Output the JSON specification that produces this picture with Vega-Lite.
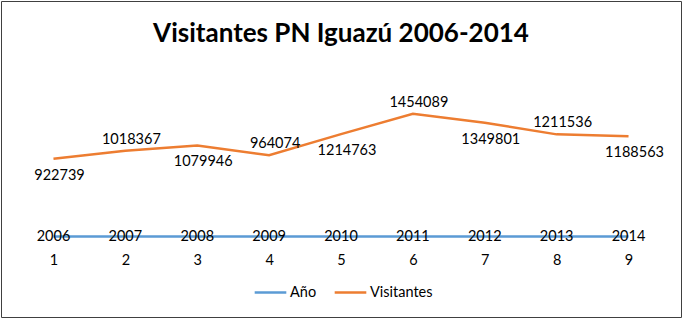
{
  "$schema": "https://vega.github.io/schema/vega-lite/v6.json",
  "width": 680,
  "height": 316,
  "autosize": "none",
  "padding": 1,
  "background": "white",
  "config": {
    "view": {"stroke": "#404040", "strokeWidth": 1},
    "font": "Lato",
    "text": {"font": "Lato", "fontSize": 14.5, "color": "black"}
  },
  "title": {
    "text": "Visitantes PN Iguazú 2006-2014",
    "font": "Lato",
    "fontSize": 26,
    "fontWeight": "bold",
    "color": "black",
    "anchor": "middle",
    "baseline": "middle",
    "offset": -59
  },
  "data": {
    "values": [
      {"cat": "1", "serie": "Año", "valor": 2006, "pos": "mid"},
      {"cat": "2", "serie": "Año", "valor": 2007, "pos": "mid"},
      {"cat": "3", "serie": "Año", "valor": 2008, "pos": "mid"},
      {"cat": "4", "serie": "Año", "valor": 2009, "pos": "mid"},
      {"cat": "5", "serie": "Año", "valor": 2010, "pos": "mid"},
      {"cat": "6", "serie": "Año", "valor": 2011, "pos": "mid"},
      {"cat": "7", "serie": "Año", "valor": 2012, "pos": "mid"},
      {"cat": "8", "serie": "Año", "valor": 2013, "pos": "mid"},
      {"cat": "9", "serie": "Año", "valor": 2014, "pos": "mid"},
      {"cat": "1", "serie": "Visitantes", "valor": 922739, "pos": "below"},
      {"cat": "2", "serie": "Visitantes", "valor": 1018367, "pos": "above"},
      {"cat": "3", "serie": "Visitantes", "valor": 1079946, "pos": "below"},
      {"cat": "4", "serie": "Visitantes", "valor": 964074, "pos": "above"},
      {"cat": "5", "serie": "Visitantes", "valor": 1214763, "pos": "below"},
      {"cat": "6", "serie": "Visitantes", "valor": 1454089, "pos": "above"},
      {"cat": "7", "serie": "Visitantes", "valor": 1349801, "pos": "below"},
      {"cat": "8", "serie": "Visitantes", "valor": 1211536, "pos": "above"},
      {"cat": "9", "serie": "Visitantes", "valor": 1188563, "pos": "below"}
    ]
  },
  "encoding": {
    "x": {
      "field": "cat",
      "type": "ordinal",
      "scale": {"type": "point", "padding": 0.73},
      "axis": {
        "title": null,
        "orient": "bottom",
        "offset": -66,
        "domain": false,
        "ticks": false,
        "labelAngle": 0,
        "labelFont": "Lato",
        "labelFontSize": 14.5,
        "labelColor": "black",
        "labelPadding": 2
      }
    },
    "y": {
      "field": "valor",
      "type": "quantitative",
      "scale": {"domain": [-950000, 2790000], "nice": false, "zero": false},
      "axis": null
    }
  },
  "layer": [
    {
      "mark": {"type": "line", "strokeWidth": 2.5},
      "encoding": {
        "color": {
          "field": "serie",
          "type": "nominal",
          "scale": {"domain": ["Año", "Visitantes"], "range": ["#5B9BD5", "#ED7D31"]},
          "legend": {
            "title": null,
            "orient": "none",
            "legendX": 252,
            "legendY": 274,
            "direction": "horizontal",
            "symbolType": "stroke",
            "symbolSize": 1000,
            "symbolStrokeWidth": 2.5,
            "labelFont": "Lato",
            "labelFontSize": 14.5,
            "labelColor": "black",
            "labelOffset": 2,
            "columnPadding": 12
          }
        }
      }
    },
    {
      "transform": [{"filter": "datum.pos === 'mid'"}],
      "mark": {"type": "text", "baseline": "middle"},
      "encoding": {"text": {"field": "valor", "type": "quantitative", "format": "d"}}
    },
    {
      "transform": [{"filter": "datum.pos === 'above'"}],
      "mark": {"type": "text", "baseline": "middle", "dx": 6, "dy": -11},
      "encoding": {"text": {"field": "valor", "type": "quantitative", "format": "d"}}
    },
    {
      "transform": [{"filter": "datum.pos === 'below'"}],
      "mark": {"type": "text", "baseline": "middle", "dx": 6, "dy": 17},
      "encoding": {"text": {"field": "valor", "type": "quantitative", "format": "d"}}
    }
  ]
}
